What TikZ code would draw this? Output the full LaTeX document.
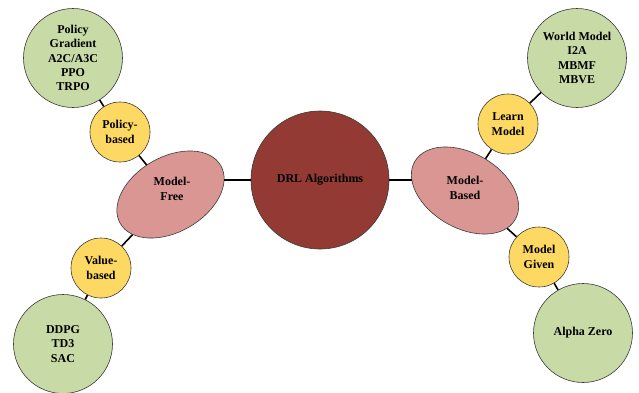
\documentclass[tikz,border=0pt]{standalone}
\usepackage{fontspec}
\setmainfont{Liberation Serif}
\usepackage{tikz}
\usetikzlibrary{shapes.geometric}
\usepackage{xcolor}
\definecolor{fleaf}{HTML}{C8DAA6}
\definecolor{fgold}{HTML}{FDD862}
\definecolor{frose}{HTML}{D99692}
\definecolor{froot}{HTML}{923A33}
\definecolor{fedge}{HTML}{3A3A3A}
\tikzset{
  algo/.style    = {draw=fedge, line width=0.6pt, circle, fill=fleaf,
                    minimum size=99pt, inner sep=0pt, align=center},
  family/.style  = {draw=fedge, line width=0.6pt, circle, fill=fgold,
                    minimum size=60pt, inner sep=0pt, align=center},
  branch/.style  = {draw=fedge, line width=0.6pt, ellipse, fill=frose,
                    minimum width=116pt, minimum height=75pt, inner sep=0pt},
  root/.style    = {draw=fedge, line width=0.6pt, circle, fill=froot,
                    minimum size=138pt, inner sep=0pt},
  link/.style    = {line width=1.6pt, black},
}

\begin{document}
\begin{tikzpicture}[x=1pt,y=-1pt,font=\fontsize{12}{14.3}\selectfont\bfseries]
\useasboundingbox (0,0) rectangle (639,392);
\node[root] (drl) at (320,180) {DRL Algorithms};
% model-free side
\node[branch,rotate=30] (mf) at (170.5,194.5) {};
\node[align=center] (mflab) at (172,189) {Model-\\Free};
\node[family] (pb) at (120,132) {Policy-\\based};
\node[family] (vb) at (101,268) {Value-\\based};
\node[algo] (pg) at (73,58) {Policy\\Gradient\\A2C/A3C\\PPO\\TRPO};
\node[algo] (dd) at (63,344) {DDPG\\TD3\\SAC};
% model-based side
\node[branch,rotate=-30] (mb) at (465,190.5) {};
\node[align=center] (mblab) at (465,188) {Model-\\Based};
\node[family] (lm) at (508,124) {Learn\\Model};
\node[family] (mg) at (539,257) {Model\\Given};
\node[algo] (wm) at (577,58) {World Model\\I2A\\MBMF\\MBVE};
\node[algo] (az) at (583,333) {Alpha Zero};
% free ends on the ellipse rims, level with the root
\coordinate (mfr) at (224,180);
\coordinate (mbl) at (412,180);
\draw[link] (drl) -- (mfr);
\draw[link] (drl) -- (mbl);
\foreach \a/\b in {pg/pb, pb/mf, vb/mf, dd/vb, wm/lm, lm/mb, mg/mb, az/mg}
  \draw[link] (\a) -- (\b);
\end{tikzpicture}
\end{document}
